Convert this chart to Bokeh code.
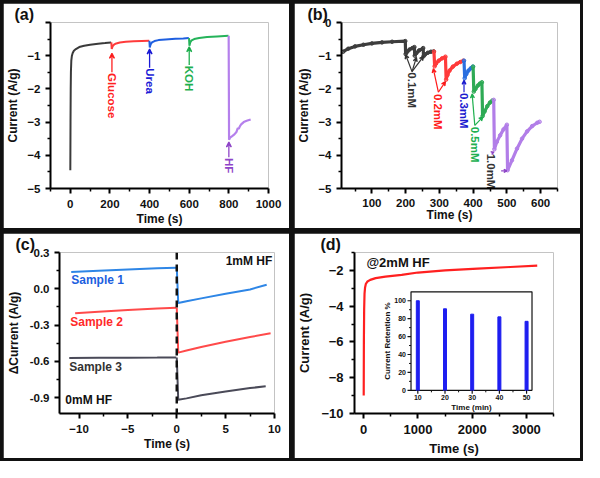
import math
from bokeh.plotting import figure
from bokeh.layouts import column, row
from bokeh.models import FixedTicker, Range1d, Arrow, VeeHead, Span, NumeralTickFormatter
from bokeh.core.properties import value
from bokeh.embed import file_html
from bokeh.resources import INLINE

FONT = "Liberation Sans"
W, H = 286, 225

# ---------------- (a) data ----------------
a_black_t = [0, 1, 2, 3, 5, 8, 12, 18, 28, 45, 70, 100, 140, 175, 206]
a_black_v = [-4.45, -3.0, -2.0, -1.5, -1.15, -1.0, -0.92, -0.85, -0.8, -0.74, -0.7, -0.67, -0.64, -0.62, -0.6]
a_red_t = [207, 209, 213, 220, 232, 250, 280, 320, 360, 398]
a_red_v = [-0.6, -0.8, -0.72, -0.67, -0.63, -0.6, -0.58, -0.565, -0.555, -0.55]
a_blue_t = [399, 401, 405, 412, 425, 445, 480, 530, 570, 598]
a_blue_v = [-0.55, -0.75, -0.66, -0.6, -0.56, -0.53, -0.51, -0.49, -0.48, -0.47]
a_green_t = [599, 601, 605, 612, 625, 650, 690, 740, 798]
a_green_v = [-0.47, -0.7, -0.6, -0.54, -0.5, -0.47, -0.44, -0.42, -0.4]
a_purple_t = [799, 801, 806, 815, 828, 838, 845, 850, 856, 862, 875, 890, 910]
a_purple_v = [-0.4, -3.53, -3.47, -3.43, -3.37, -3.3, -3.18, -3.2, -3.12, -3.07, -3.0, -2.96, -2.92]
a_labels = ["Glucose", "Urea", "KOH", "HF"]
a_label_t = [210, 400, 600, 800]
a_label_v = [-1.52, -1.38, -1.3, -4.08]
a_arrow_tip = [-0.93, -0.8, -0.73, -3.6]

# ---------------- (b) data ----------------
b_black_t = [15, 30, 50, 75, 100, 130, 160, 199, 200, 205, 212, 220, 226, 227, 232, 240, 252, 253, 258, 266, 275, 283]
b_black_v = [-0.88, -0.79, -0.72, -0.67, -0.63, -0.6, -0.58, -0.56, -0.95, -0.88, -0.81, -0.77, -0.74, -1.0, -0.92, -0.84, -0.77, -1.02, -0.96, -0.91, -0.88, -0.87]
b_red_t = [284, 286, 290, 298, 308, 318, 320, 324, 330, 340, 352, 362, 371]
b_red_v = [-0.88, -1.32, -1.24, -1.15, -1.08, -1.03, -1.72, -1.58, -1.45, -1.33, -1.24, -1.19, -1.15]
b_blue_t = [373, 375, 380, 386, 393, 399]
b_blue_v = [-1.15, -1.68, -1.55, -1.45, -1.38, -1.33]
b_green_t = [400, 402, 407, 414, 420, 426, 428, 434, 442, 450, 457]
b_green_v = [-1.33, -2.08, -2.0, -1.9, -1.84, -1.8, -2.82, -2.68, -2.52, -2.41, -2.35]
b_purple_t = [461, 463, 470, 480, 490, 500, 502, 515, 530, 545, 560, 575, 590, 597]
b_purple_v = [-2.33, -3.82, -3.6, -3.4, -3.22, -3.08, -4.45, -4.15, -3.8, -3.5, -3.28, -3.12, -3.02, -2.99]
b_labels = ["0.1mM", "0.2mM", "0.3mM", "0.5mM", "1.0mM"]
b_label_t = [219, 297, 373, 405, 454]
b_label_v = [-1.5, -2.15, -2.12, -3.14, -3.95]
b_label_colors = ["#333333", "#ff1a1a", "#1a1ad0", "#20b050", "#333333"]

# ---------------- (c) data ----------------
c_s1_pre_t = [-10.8, -8, -5, -2, -0.05]
c_s1_pre_v = [0.138, 0.149, 0.16, 0.17, 0.175]
c_s1_post_t = [0.0, 0.15, 1, 2.5, 5, 7.5, 9.2]
c_s1_post_v = [0.175, -0.118, -0.103, -0.079, -0.041, -0.005, 0.033]
c_s2_pre_t = [-10.4, -8, -5, -2, -0.05]
c_s2_pre_v = [-0.202, -0.19, -0.176, -0.163, -0.156]
c_s2_post_t = [0.0, 0.15, 1, 2.5, 5, 7.5, 9.6]
c_s2_post_v = [-0.156, -0.527, -0.51, -0.48, -0.438, -0.398, -0.367]
c_s3_pre_t = [-11, -8, -5, -2, -0.05]
c_s3_pre_v = [-0.571, -0.57, -0.569, -0.568, -0.567]
c_s3_post_t = [0.0, 0.15, 1, 2.5, 5, 7.5, 9.1]
c_s3_post_v = [-0.567, -0.917, -0.905, -0.88, -0.848, -0.82, -0.805]
c_labels = ["Sample 1", "Sample 2", "Sample 3", "1mM HF", "0mM HF"]
c_label_t = [-10.8, -10.9, -11.0, 5.0, -11.4]
c_label_v = [0.069, -0.27, -0.646, 0.23, -0.915]
c_label_colors = ["#1c5fe0", "#ff2a2a", "#333333", "#111111", "#111111"]

# ---------------- (d) data ----------------
d_t = [0, 3, 8, 15, 25, 40, 70, 120, 220, 400, 700, 1000, 1500, 2100, 2700, 3200]
d_v = [-9.0, -6.0, -4.2, -3.3, -2.95, -2.75, -2.62, -2.53, -2.43, -2.35, -2.25, -2.12, -2.0, -1.9, -1.81, -1.73]
inset_t = [10, 20, 30, 40, 50]
inset_ret = [100, 91, 85, 82, 77]
inset_xticks = [10, 20, 30, 40, 50]
inset_xminor = [15, 25, 35, 45]
inset_yticks = [0, 20, 40, 60, 80, 100]
inset_yminor = [10, 30, 50, 70, 90]


def make_fig(xr, yr, ml, mr, mt, mb, letter, offset):
    p = figure(width=W, height=H, x_range=xr, y_range=yr,
               output_backend="svg", toolbar_location=None,
               min_border_left=ml, min_border_right=mr,
               min_border_top=mt, min_border_bottom=mb,
               title=letter, title_location="above")
    p.outline_line_color = None
    p.grid.visible = False
    p.title.align = "left"
    p.title.offset = offset
    p.title.standoff = 0
    p.title.text_font = FONT
    p.title.text_font_style = "bold"
    p.title.text_font_size = "16px"
    p.title.text_color = "#111111"
    p.title.text_line_height = 0.9
    return p


def style_axes(p, xt, xm, yt, ym, xlabel, ylabel, tick_fs="11.5px", lab_fs="12px",
               xstand=6, ystand=5, xlabstand=1, ylabstand=4):
    p.xaxis.ticker = FixedTicker(ticks=xt, minor_ticks=xm)
    p.yaxis.ticker = FixedTicker(ticks=yt, minor_ticks=ym)
    p.xaxis.axis_label = xlabel
    p.yaxis.axis_label = ylabel
    for ax in (p.xaxis[0], p.yaxis[0]):
        ax.axis_line_width = 2
        ax.major_tick_line_width = 2
        ax.minor_tick_line_width = 1.5
        ax.major_tick_out = 5
        ax.major_tick_in = 0
        ax.minor_tick_out = 3
        ax.minor_tick_in = 0
        ax.major_label_text_font = FONT
        ax.major_label_text_font_style = "bold"
        ax.major_label_text_font_size = tick_fs
        ax.major_label_text_color = "#111111"
        ax.axis_label_text_font = FONT
        ax.axis_label_text_font_style = "bold"
        ax.axis_label_text_font_size = lab_fs
        ax.axis_label_text_color = "#111111"
    p.xaxis[0].major_label_standoff = xstand
    p.yaxis[0].major_label_standoff = ystand
    p.xaxis[0].axis_label_standoff = xlabstand
    p.yaxis[0].axis_label_standoff = ylabstand


def vtext(p, xs, ys, texts, colors, fs="11.5px"):
    p.text(x=xs, y=ys, text=texts, angle=-math.pi / 2, text_color=colors,
           text_font=value(FONT), text_font_style="bold", text_font_size=fs,
           text_align="left", text_baseline="middle")


def arrow(p, x0, y0, x1, y1, color, w=1.3, size=5):
    p.add_layout(Arrow(x_start=x0, y_start=y0, x_end=x1, y_end=y1, line_color=color, line_width=w,
                       end=VeeHead(size=size, line_color=color, line_width=w)))


# ================= panel (a) =================
pa = make_fig((-100, 1000), (-5, 0), 45, 21, 14, 35, "(a)", -36)
style_axes(pa, [0, 200, 400, 600, 800, 1000], [-100, 100, 300, 500, 700, 900],
           [-5, -4, -3, -2, -1, 0], [-4.5, -3.5, -2.5, -1.5, -0.5], "Time (s)", "Current (A/g)")
pa.yaxis[0].major_label_overrides = {0: ""}
pa.line(a_black_t, a_black_v, line_color="#3a3a3a", line_width=2)
pa.line(a_red_t, a_red_v, line_color="#ff3b3b", line_width=2)
pa.line(a_blue_t, a_blue_v, line_color="#1f5fe0", line_width=2)
pa.line(a_green_t, a_green_v, line_color="#25b35a", line_width=2)
pa.line(a_purple_t, a_purple_v, line_color="#b580ec", line_width=2.2)
a_colors = ["#ff2020", "#1a1ad6", "#1fb04f", "#8f45c8"]
for t, v0, v1, c in zip(a_label_t, a_label_v, a_arrow_tip, a_colors):
    arrow(pa, t, v0 + 0.02, t, v1, c)
vtext(pa, a_label_t, a_label_v, a_labels, a_colors)

# ================= panel (b) =================
pb = make_fig((10, 650), (-5, 0), 39, 23, 14, 33, "(b)", -34)
style_axes(pb, [100, 200, 300, 400, 500, 600], [50, 150, 250, 350, 450, 550, 650],
           [-5, -4, -3, -2, -1, 0], [-4.5, -3.5, -2.5, -1.5, -0.5], "Time (s)", "Current (A/g)",
           xstand=5, xlabstand=-2)
for ts, vs, c in [(b_black_t, b_black_v, "#3d3d3d"), (b_red_t, b_red_v, "#ff3a3a"),
                  (b_blue_t, b_blue_v, "#2a6fe0"), (b_green_t, b_green_v, "#2eaa55"),
                  (b_purple_t, b_purple_v, "#b27ee8")]:
    pb.line(ts, vs, line_color=c, line_width=3.2)
    pb.scatter(ts, vs, size=3.5, marker="circle", line_color=c, fill_color=c, fill_alpha=0.6, line_width=1)
arrow(pb, 219, -1.48, 200, -0.97, "#333333", w=1.2, size=4)
arrow(pb, 219, -1.48, 232, -1.05, "#333333", w=1.2, size=4)
arrow(pb, 219, -1.48, 253, -1.02, "#333333", w=1.2, size=4)
arrow(pb, 297, -2.1, 282, -1.39, "#ff1a1a", w=1.2, size=4)
arrow(pb, 297, -2.1, 318, -1.78, "#ff1a1a", w=1.2, size=4)
arrow(pb, 373, -2.1, 373, -1.74, "#1a1ad0", w=1.2, size=4)
arrow(pb, 405, -3.1, 397, -2.15, "#20b050", w=1.2, size=4)
arrow(pb, 405, -3.1, 429, -2.84, "#20b050", w=1.2, size=4)
arrow(pb, 455, -3.93, 462, -3.9, "#8f45c8", w=1.2, size=3)
arrow(pb, 483, -4.47, 500, -4.47, "#8f45c8", w=1.2, size=3)
vtext(pb, b_label_t, b_label_v, b_labels, b_label_colors, fs="11.5px")

# ================= panel (c) =================
pc = make_fig((-12, 10), (-1.03, 0.3), 48, 15, 14, 43, "(c)", -44)
style_axes(pc, [-10, -5, 0, 5, 10], [-7.5, -2.5, 2.5, 7.5],
           [-0.9, -0.6, -0.3, 0.0, 0.3], [-0.75, -0.45, -0.15, 0.15], "Time (s)", "ΔCurrent (A/g)",
           ystand=5, ylabstand=6)
pc.yaxis[0].formatter = NumeralTickFormatter(format="0.0")
pc.add_layout(Span(location=0, dimension="height", line_color="#111111", line_width=2.5, line_dash="7 5"))
for ts, vs, c in [(c_s1_pre_t, c_s1_pre_v, "#2e86e6"), (c_s1_post_t, c_s1_post_v, "#2e86e6"),
                  (c_s2_pre_t, c_s2_pre_v, "#ff4a4a"), (c_s2_post_t, c_s2_post_v, "#ff4a4a"),
                  (c_s3_pre_t, c_s3_pre_v, "#4a4a58"), (c_s3_post_t, c_s3_post_v, "#4a4a58")]:
    pc.line(ts, vs, line_color=c, line_width=2)
pc.text(x=c_label_t, y=c_label_v, text=c_labels, text_color=c_label_colors,
        text_font=value(FONT), text_font_style="bold", text_font_size="12px",
        text_align="left", text_baseline="middle")

# ================= panel (d) =================
pd_ = make_fig((-170, 3500), (-10, -1), 43, 27, 12, 44, "(d)", -34)
style_axes(pd_, [0, 1000, 2000, 3000], [500, 1500, 2500, 3500],
           [-10, -8, -6, -4, -2], [-9, -7, -5, -3, -1], "Time (s)", "Current (A/g)",
           tick_fs="13px", lab_fs="13px", xstand=6, xlabstand=4, ystand=6, ylabstand=6)
pd_.line(d_t, d_v, line_color="#ff2020", line_width=2.2)
pd_.text(x=[50], y=[-1.58], text=["@2mM HF"], text_color="#111111",
         text_font=value(FONT), text_font_style="bold", text_font_size="13px",
         text_align="left", text_baseline="middle")

IX0, IX1 = 7.5, 52.0
IY0, IY1 = 0.0, 110.0
fx0, fx1 = 0.284, 0.892
fy0, fy1 = 0.144, 0.756
sx = (IX1 - IX0) / (fx1 - fx0)
sy = (IY1 - IY0) / (fy1 - fy0)
pd_.extra_x_ranges = {"ix": Range1d(IX0 - fx0 * sx, IX0 - fx0 * sx + sx)}
pd_.extra_y_ranges = {"iy": Range1d(IY0 - fy0 * sy, IY0 - fy0 * sy + sy)}
kw = dict(x_range_name="ix", y_range_name="iy")
pd_.quad(left=[IX0], right=[IX1], bottom=[IY0], top=[IY1], fill_color="white",
         line_color="#111111", line_width=1.2, **kw)
pd_.vbar(x=inset_t, top=inset_ret, bottom=0, width=1.1, fill_color="#1e1ef0", line_color="#1e1ef0", **kw)
pd_.ray(x=inset_xticks, y=[IY0] * len(inset_xticks), length=3.5, angle=-math.pi / 2,
        length_units="screen", line_color="#111111", line_width=1.2, **kw)
pd_.ray(x=inset_xminor, y=[IY0] * len(inset_xminor), length=2, angle=-math.pi / 2,
        length_units="screen", line_color="#111111", line_width=1, **kw)
pd_.ray(x=[IX0] * len(inset_yticks), y=inset_yticks, length=3.5, angle=math.pi,
        length_units="screen", line_color="#111111", line_width=1.2, **kw)
pd_.ray(x=[IX0] * len(inset_yminor), y=inset_yminor, length=2, angle=math.pi,
        length_units="screen", line_color="#111111", line_width=1, **kw)
pd_.text(x=inset_xticks, y=[IY0] * len(inset_xticks), text=[str(v) for v in inset_xticks],
         y_offset=5, text_align="center", text_baseline="top", text_font=value(FONT),
         text_font_style="bold", text_font_size="7px", text_color="#111111", **kw)
pd_.text(x=[IX0] * len(inset_yticks), y=inset_yticks, text=[str(v) for v in inset_yticks],
         x_offset=-5, text_align="right", text_baseline="middle", text_font=value(FONT),
         text_font_style="bold", text_font_size="7px", text_color="#111111", **kw)
pd_.text(x=[(IX0 + IX1) / 2], y=[IY0], text=["Time (min)"], y_offset=13,
         text_align="center", text_baseline="top", text_font=value(FONT),
         text_font_style="bold", text_font_size="8px", text_color="#111111", **kw)
pd_.text(x=[IX0], y=[(IY0 + IY1) / 2], text=["Current Retention %"], x_offset=-19,
         angle=math.pi / 2, text_align="center", text_baseline="bottom", text_font=value(FONT),
         text_font_style="bold", text_font_size="8px", text_color="#111111", **kw)

layout = column(row(pa, pb, spacing=5), row(pc, pd_, spacing=5), spacing=5,
                styles={"background-color": "#111111", "padding": "3px"})
open("out.html", "w").write(file_html(layout, INLINE))
